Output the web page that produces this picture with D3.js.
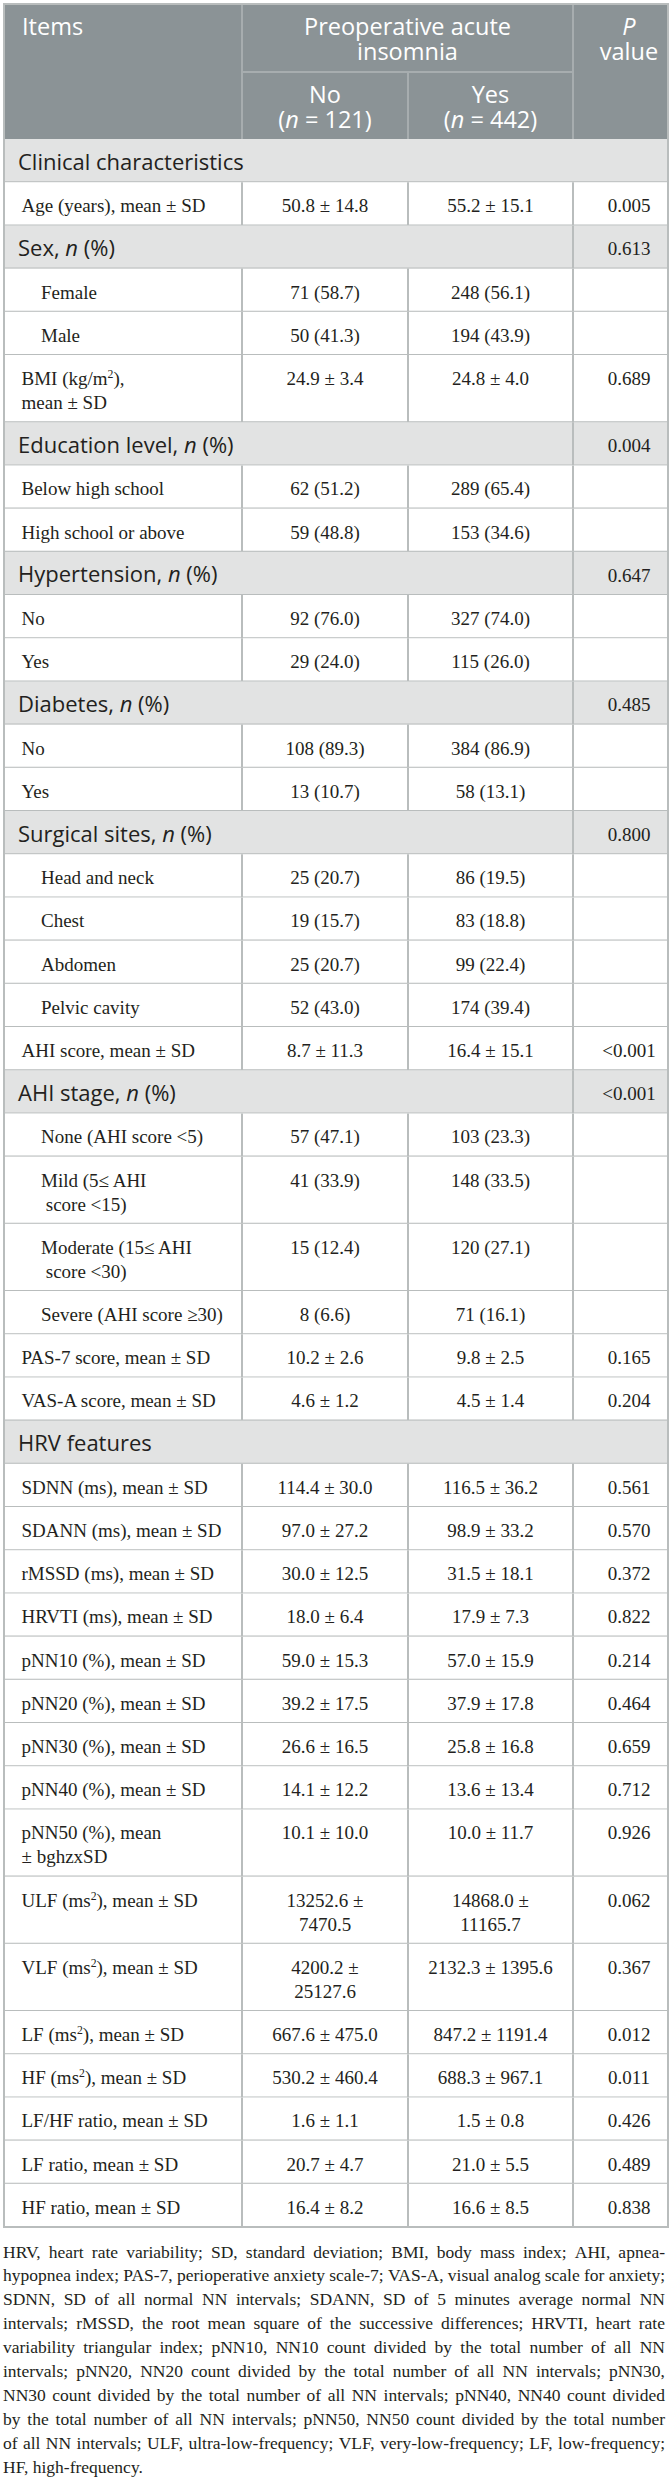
<!DOCTYPE html>
<html>
<head>
<meta charset="utf-8">
<script src="https://cdn.jsdelivr.net/npm/d3@7"></script>
<style>
  body { margin: 0; background: #fff; }
  svg { display: block; }
</style>
</head>
<body>
<div id="chart"></div>
<script>
// table content, one entry per body row
const itemLabels = [
  "Clinical characteristics", "Age (years), mean ± SD", "Sex, _n_ (%)", "Female", "Male",
  "BMI (kg/m^2),\nmean ± SD", "Education level, _n_ (%)", "Below high school", "High school or above",
  "Hypertension, _n_ (%)", "No", "Yes", "Diabetes, _n_ (%)", "No", "Yes",
  "Surgical sites, _n_ (%)", "Head and neck", "Chest", "Abdomen", "Pelvic cavity",
  "AHI score, mean ± SD", "AHI stage, _n_ (%)", "None (AHI score <5)", "Mild (5≤ AHI\n score <15)",
  "Moderate (15≤ AHI\n score <30)", "Severe (AHI score ≥30)", "PAS-7 score, mean ± SD",
  "VAS-A score, mean ± SD", "HRV features", "SDNN (ms), mean ± SD", "SDANN (ms), mean ± SD",
  "rMSSD (ms), mean ± SD", "HRVTI (ms), mean ± SD", "pNN10 (%), mean ± SD", "pNN20 (%), mean ± SD",
  "pNN30 (%), mean ± SD", "pNN40 (%), mean ± SD", "pNN50 (%), mean\n± bghzxSD",
  "ULF (ms^2), mean ± SD", "VLF (ms^2), mean ± SD", "LF (ms^2), mean ± SD", "HF (ms^2), mean ± SD",
  "LF/HF ratio, mean ± SD", "LF ratio, mean ± SD", "HF ratio, mean ± SD"
];
// section = full band, group = band with P value, item = plain row, sub = indented row
const rowKinds = [
  "section", "item", "group", "sub", "sub", "item", "group", "item", "item",
  "group", "item", "item", "group", "item", "item",
  "group", "sub", "sub", "sub", "sub",
  "item", "group", "sub", "sub", "sub", "sub", "item", "item",
  "section", "item", "item", "item", "item", "item", "item", "item", "item", "item",
  "item", "item", "item", "item", "item", "item", "item"
];
const noValues = [
  "", "50.8 ± 14.8", "", "71 (58.7)", "50 (41.3)", "24.9 ± 3.4", "", "62 (51.2)", "59 (48.8)",
  "", "92 (76.0)", "29 (24.0)", "", "108 (89.3)", "13 (10.7)",
  "", "25 (20.7)", "19 (15.7)", "25 (20.7)", "52 (43.0)",
  "8.7 ± 11.3", "", "57 (47.1)", "41 (33.9)", "15 (12.4)", "8 (6.6)", "10.2 ± 2.6", "4.6 ± 1.2",
  "", "114.4 ± 30.0", "97.0 ± 27.2", "30.0 ± 12.5", "18.0 ± 6.4", "59.0 ± 15.3", "39.2 ± 17.5",
  "26.6 ± 16.5", "14.1 ± 12.2", "10.1 ± 10.0", "13252.6 ±\n7470.5", "4200.2 ±\n25127.6",
  "667.6 ± 475.0", "530.2 ± 460.4", "1.6 ± 1.1", "20.7 ± 4.7", "16.4 ± 8.2"
];
const yesValues = [
  "", "55.2 ± 15.1", "", "248 (56.1)", "194 (43.9)", "24.8 ± 4.0", "", "289 (65.4)", "153 (34.6)",
  "", "327 (74.0)", "115 (26.0)", "", "384 (86.9)", "58 (13.1)",
  "", "86 (19.5)", "83 (18.8)", "99 (22.4)", "174 (39.4)",
  "16.4 ± 15.1", "", "103 (23.3)", "148 (33.5)", "120 (27.1)", "71 (16.1)", "9.8 ± 2.5", "4.5 ± 1.4",
  "", "116.5 ± 36.2", "98.9 ± 33.2", "31.5 ± 18.1", "17.9 ± 7.3", "57.0 ± 15.9", "37.9 ± 17.8",
  "25.8 ± 16.8", "13.6 ± 13.4", "10.0 ± 11.7", "14868.0 ±\n11165.7", "2132.3 ± 1395.6",
  "847.2 ± 1191.4", "688.3 ± 967.1", "1.5 ± 0.8", "21.0 ± 5.5", "16.6 ± 8.5"
];
const pValues = [
  "", "0.005", "0.613", "", "", "0.689", "0.004", "", "",
  "0.647", "", "", "0.485", "", "",
  "0.800", "", "", "", "",
  "<0.001", "<0.001", "", "", "", "", "0.165", "0.204",
  "", "0.561", "0.570", "0.372", "0.822", "0.214", "0.464",
  "0.659", "0.712", "0.926", "0.062", "0.367",
  "0.012", "0.011", "0.426", "0.489", "0.838"
];
const headerTop = ["Items", "Preoperative acute\ninsomnia", "_P_\nvalue"];
const headerGroups = ["No\n(_n_ = 121)", "Yes\n(_n_ = 442)"];
const footnoteLines = [
  "HRV, heart rate variability; SD, standard deviation; BMI, body mass index; AHI, apnea-",
  "hypopnea index; PAS-7, perioperative anxiety scale-7; VAS-A, visual analog scale for anxiety;",
  "SDNN, SD of all normal NN intervals; SDANN, SD of 5 minutes average normal NN",
  "intervals; rMSSD, the root mean square of the successive differences; HRVTI, heart rate",
  "variability triangular index; pNN10, NN10 count divided by the total number of all NN",
  "intervals; pNN20, NN20 count divided by the total number of all NN intervals; pNN30,",
  "NN30 count divided by the total number of all NN intervals; pNN40, NN40 count divided",
  "by the total number of all NN intervals; pNN50, NN50 count divided by the total number",
  "of all NN intervals; ULF, ultra-low-frequency; VLF, very-low-frequency; LF, low-frequency;",
  "HF, high-frequency."
];

// layout
const width = 671, height = 2480;
const tLeft = 4, tRight = 668, tTop = 4, headerH = 135;
const rowH = 43.2, lineH = 24;
const serif = "'Liberation Serif', 'Times New Roman', serif",
      sans = "'Open Sans', 'Noto Sans', sans-serif";
const colors = {header: "#8b9396", headerLine: "#a7adaf", band: "#e2e3e3",
                grid: "#b9bdbd", text: "#231f20"};
const headFont = 23.5, headStep = 25;

// columns: Items | No | Yes | P value
const x = d3.scaleOrdinal()
    .domain(["items", "no", "yes", "p", "end"])
    .range([tLeft, 242, 408, 573, tRight]);
const colCenter = {no: (x("no") + x("yes")) / 2, yes: (x("yes") + x("p")) / 2, p: 629};

const rows = itemLabels.map((label, i) => {
  const lines = d3.max([label, noValues[i], yesValues[i]], s => s.split("\n").length);
  return {label, kind: rowKinds[i], no: noValues[i], yes: yesValues[i], p: pValues[i],
          h: rowH + (lines - 1) * lineH};
});
const bodyTop = tTop + headerH;
const offsets = d3.cumsum(rows, d => d.h);
rows.forEach((d, i) => d.y = bodyTop + (i ? offsets[i - 1] : 0));
const bodyBottom = bodyTop + offsets[offsets.length - 1];

const svg = d3.select("#chart").append("svg")
    .attr("width", width)
    .attr("height", height)
    .attr("viewBox", [0, 0, width, height]);

/**
 * Writes a string with _italic_ and ^superscript marks into a text/tspan
 */
function rich(text, str) {
  const parts = str.split(/(_[^_]+_|\^\d)/).filter(s => s);
  let lift = 0;
  parts.forEach(p => {
    const t = text.append("tspan");
    if (p.startsWith("_")) {
      t.attr("font-style", "italic").text(p.slice(1, -1));
    } else if (p.startsWith("^")) {
      t.attr("dy", -7).attr("font-size", "0.62em").text(p.slice(1));
      lift = 7;
      return;
    } else {
      t.text(p);
    }
    if (lift) { t.attr("dy", lift); lift = 0; }
  });
}

// one text element per cell, one line tspan per line, first baseline at y
function block(g, str, xPos, y, anchor, font, size, fill, step) {
  if (!str) return;
  const t = g.append("text")
      .attr("text-anchor", anchor)
      .attr("font-family", font)
      .attr("font-size", size)
      .attr("fill", fill)
      .style("white-space", "pre");
  str.split("\n").forEach((line, k) => {
    const ln = t.append("tspan")
        .attr("x", xPos)
        .attr("y", y + k * step);
    rich(ln, line);
  });
}

// header
const header = svg.append("g").classed("header", true);
header.append("rect")
    .attr("x", tLeft).attr("y", tTop)
    .attr("width", tRight - tLeft).attr("height", headerH)
    .attr("fill", colors.header);
const midY = 72;
header.selectAll("line.v")
    .data([[x("no"), tTop, bodyTop], [x("p"), tTop, bodyTop], [x("yes"), midY, bodyTop]])
    .join("line")
      .attr("x1", d => d[0]).attr("x2", d => d[0])
      .attr("y1", d => d[1]).attr("y2", d => d[2])
      .attr("stroke", colors.headerLine).attr("stroke-width", 2);
header.append("line")
    .attr("x1", x("no")).attr("x2", x("p"))
    .attr("y1", midY).attr("y2", midY)
    .attr("stroke", colors.headerLine).attr("stroke-width", 2);

block(header, headerTop[0], 22, 34.5, "start", sans, headFont, "#fff", headStep);
block(header, headerTop[1], (x("no") + x("p")) / 2, 34.5, "middle", sans, headFont, "#fff", headStep);
block(header, headerTop[2], colCenter.p, 34.5, "middle", sans, headFont, "#fff", headStep);
headerGroups.forEach((s, i) =>
  block(header, s, i ? colCenter.yes : colCenter.no, 102.5, "middle", sans, headFont, "#fff", headStep));

// body rows
const body = svg.append("g").classed("body", true);
const row = body.selectAll("g.row")
  .data(rows)
  .join("g")
    .attr("class", d => `row ${d.kind}`)
    .attr("transform", d => `translate(0,${d.y})`);

row.append("rect")
    .attr("x", tLeft).attr("width", tRight - tLeft)
    .attr("height", d => d.h)
    .attr("fill", d => d.kind === "section" || d.kind === "group" ? colors.band : "#fff");

row.append("line")
    .attr("x1", tLeft).attr("x2", tRight)
    .attr("y1", d => d.h).attr("y2", d => d.h)
    .attr("stroke", colors.grid).attr("stroke-width", 2);

// vertical dividers per row type
row.each(function(d) {
  const keys = d.kind === "section" ? [] : d.kind === "group" ? ["p"] : ["no", "yes", "p"];
  d3.select(this).selectAll("line.div")
    .data(keys)
    .join("line")
      .attr("x1", k => x(k)).attr("x2", k => x(k))
      .attr("y1", 0).attr("y2", d.h)
      .attr("stroke", colors.grid).attr("stroke-width", 2);
});

row.each(function(d) {
  const g = d3.select(this);
  const band = d.kind === "section" || d.kind === "group";
  if (band) {
    block(g, d.label, 18, 30.5, "start", sans, 22, colors.text, lineH);
  } else {
    block(g, d.label, d.kind === "sub" ? 41 : 21.5, 30, "start", serif, 19, colors.text, lineH);
  }
  block(g, d.no, colCenter.no, 30, "middle", serif, 19, colors.text, lineH);
  block(g, d.yes, colCenter.yes, 30, "middle", serif, 19, colors.text, lineH);
  block(g, d.p, colCenter.p, 30, "middle", serif, 19, colors.text, lineH);
});

// outer border
svg.append("rect")
    .attr("x", tLeft).attr("y", tTop)
    .attr("width", tRight - tLeft).attr("height", bodyBottom - tTop)
    .attr("fill", "none")
    .attr("stroke", colors.grid).attr("stroke-width", 2);

// footnote, justified line by line
const note = svg.append("g").classed("footnote", true);
const noteLeft = 3, noteRight = 665, noteY = bodyBottom + 30.5, noteStep = 23.9;
const probe = note.append("text").attr("font-family", serif).attr("font-size", 17.5);
const measure = s => probe.text(s).node().getComputedTextLength();
const spaceW = measure("a b") - measure("ab");
footnoteLines.forEach((line, k) => {
  const words = line.split(" ");
  const widths = words.map(measure);
  const last = k === footnoteLines.length - 1;
  const gap = last ? spaceW :
      (noteRight - noteLeft - d3.sum(widths)) / (words.length - 1);
  let cx = noteLeft;
  words.forEach((w, j) => {
    note.append("text")
        .attr("x", cx)
        .attr("y", noteY + k * noteStep)
        .attr("font-family", serif)
        .attr("font-size", 17.5)
        .attr("fill", colors.text)
        .text(w);
    cx += widths[j] + gap;
  });
});
probe.remove();
</script>
</body>
</html>
